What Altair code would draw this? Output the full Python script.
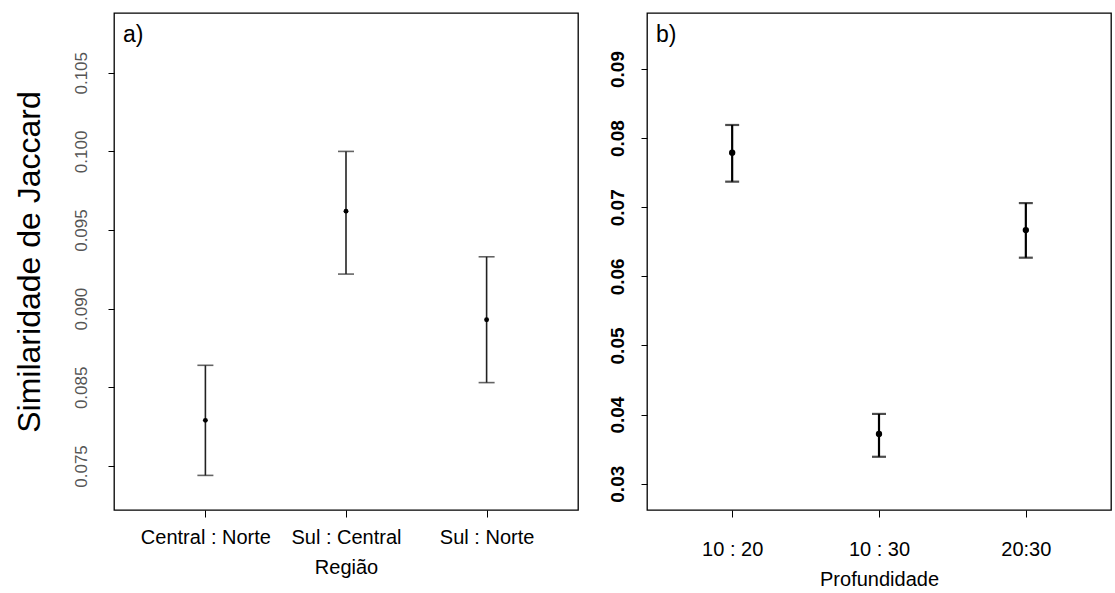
import altair as alt
import pandas as pd

# Panel a) Região
regiao = ["Central : Norte", "Sul : Central", "Sul : Norte"]
regiao_mean = [0.0829, 0.0962, 0.0893]
regiao_low = [0.0794, 0.0922, 0.0853]
regiao_high = [0.0864, 0.1000, 0.0933]
ticks_a = [0.080, 0.085, 0.090, 0.095, 0.100, 0.105]
labels_a = ["0.075", "0.085", "0.090", "0.095", "0.100", "0.105"]

# Panel b) Profundidade
prof = ["10 : 20", "10 : 30", "20:30"]
prof_mean = [0.0779, 0.0372, 0.0667]
prof_low = [0.0737, 0.0339, 0.0627]
prof_high = [0.0819, 0.0401, 0.0706]
ticks_b = [0.03, 0.04, 0.05, 0.06, 0.07, 0.08, 0.09]
labels_b = ["0.03", "0.04", "0.05", "0.06", "0.07", "0.08", "0.09"]

FONT = "Liberation Sans"

def label_expr(vals, labs):
    expr = "''"
    for v, l in reversed(list(zip(vals, labs))):
        expr = f"abs(datum.value - {v}) < 1e-6 ? '{l}' : ({expr})"
    return expr

df_a = pd.DataFrame({"cat": regiao, "m": regiao_mean, "lo": regiao_low, "hi": regiao_high})
df_b = pd.DataFrame({"cat": prof, "m": prof_mean, "lo": prof_low, "hi": prof_high})

W, H = 464, 497

def panel(df, order, dom, tvals, tlabs, xtitle, ytitle, tag, lab_bold, lab_color,
          lab_size, stroke_w, cap, pad, xlab_pad, xtitle_pad, pt_size, line_color,
          ylab_pad, ytitle_pad):
    x = alt.X("cat:N", sort=order, title=xtitle,
              scale=alt.Scale(type="point", padding=pad),
              axis=alt.Axis(labelAngle=0, labelFont=FONT, labelFontSize=20,
                            labelColor="black", titleFont=FONT, titleFontSize=20,
                            titleFontWeight="normal", titleColor="black",
                            tickSize=7, tickColor="black", domain=False,
                            labelPadding=xlab_pad, titlePadding=xtitle_pad))
    yaxis = alt.Axis(values=tvals, labelExpr=label_expr(tvals, tlabs), labelAngle=270,
                     labelFont=FONT, labelFontSize=lab_size,
                     labelFontWeight="bold" if lab_bold else "normal",
                     labelColor=lab_color, tickSize=6, tickColor="black",
                     domain=False, grid=False, labelPadding=ylab_pad,
                     title=ytitle, titleFont=FONT, titleFontSize=32,
                     titleFontWeight="normal", titleColor="black", titlePadding=ytitle_pad)
    y = alt.Y("lo:Q", scale=alt.Scale(domain=dom, nice=False, zero=False), axis=yaxis)
    base = alt.Chart(df)
    rule = base.mark_rule(color=line_color, strokeWidth=stroke_w).encode(x=x, y=y, y2="hi:Q")
    cap_lo = base.mark_tick(color=line_color, size=cap, thickness=stroke_w).encode(x=x, y="lo:Q")
    cap_hi = base.mark_tick(color=line_color, size=cap, thickness=stroke_w).encode(x=x, y="hi:Q")
    pts = base.mark_point(filled=True, color="black", size=pt_size, opacity=1).encode(x=x, y="m:Q")
    txt = alt.Chart(pd.DataFrame({"t": [tag]})).mark_text(
        align="left", baseline="top", font=FONT, fontSize=23, color="black"
    ).encode(text="t:N", x=alt.value(9), y=alt.value(11))
    return alt.layer(rule, cap_lo, cap_hi, pts, txt).properties(width=W, height=H)

left = panel(df_a, regiao, [0.0772, 0.1088], ticks_a, labels_a, "Região",
             "Similaridade de Jaccard", "a)", False, "#555555", 17, 1.6, 16, 0.65,
             10, 10, 24, "#222222", 18, 26)
right = panel(df_b, prof, [0.0262, 0.0981], ticks_b, labels_b, "Profundidade",
              "", "b)", True, "black", 19, 2.2, 14, 0.58,
              22, 10, 40, "black", 14, 10)

chart = alt.hconcat(left, right, spacing=28).properties(
    padding={"left": 12, "top": 12, "right": 0, "bottom": 0},
    background="white",
).configure_view(stroke="black", strokeWidth=1.3)

chart.save("out.html", embed_options={"renderer": "svg", "actions": False})
